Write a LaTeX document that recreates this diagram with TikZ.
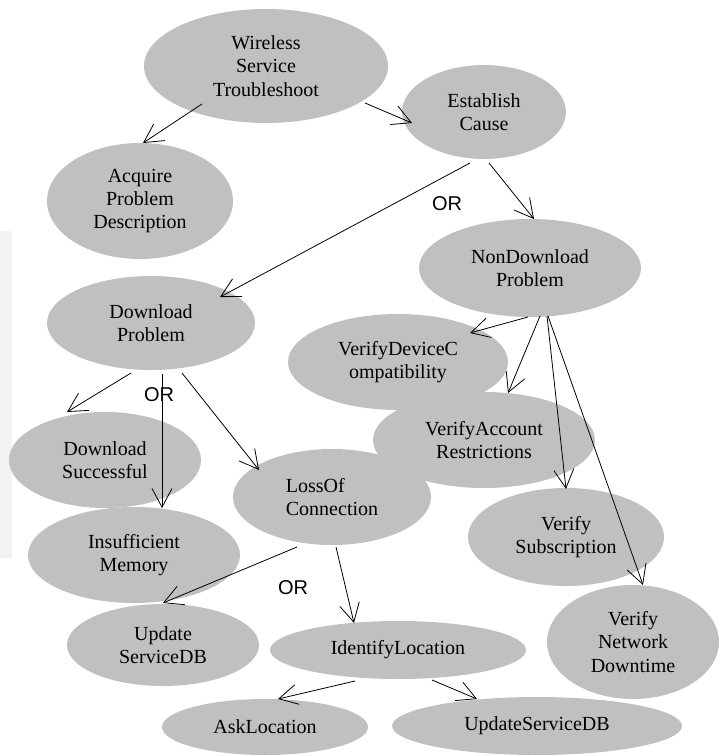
\documentclass[tikz,border=0pt]{standalone}
\usepackage{fontspec}
\setmainfont{Liberation Serif}
\newfontfamily\orfont{Liberation Sans}
\usetikzlibrary{arrows.meta,shapes.geometric}
\definecolor{ellgray}{RGB}{192,192,192}
\definecolor{sidegray}{RGB}{242,242,242}
\tikzset{
  el/.style={ellipse,fill=ellgray,inner sep=0pt,align=center,font=\fontsize{15}{17.5}\selectfont},
  sz/.style 2 args={minimum width=#1*0.75pt,minimum height=#2*0.75pt},
  arr/.style={draw=black,line width=0.6pt,-{Straight Barb[length=14pt,width=15pt,line width=0.6pt]}},
  ortext/.style={inner sep=0pt,font=\orfont\fontsize{15}{18}\selectfont}
}
\begin{document}
\begin{tikzpicture}[x=0.75pt,y=-0.75pt]
\useasboundingbox (0,0) rectangle (723,756);
\fill[sidegray] (0,231) rectangle (12,558);
% ellipses
\node[el,sz={244}{114}] (wst) at (266,66) {Wireless\\Service\\Troubleshoot};
\node[el,sz={164}{94}] (est) at (484,112) {Establish\\Cause};
\node[el,sz={186}{116}] (acq) at (140,201) {Acquire\\Problem\\Description};
\node[el,sz={222}{98}] (ndp) at (530,268) {NonDownload\\Problem};
\node[el,sz={208}{94}] (dp) at (151,323) {Download\\Problem};
\node[el,sz={220}{96}] (vdc) at (398,362) {VerifyDeviceC\\ompatibility};
\node[el,sz={222}{96}] (var) at (484,440) {VerifyAccount\\Restrictions};
\node[el,sz={192}{96}] (ds) at (105,460) {Download\\Successful};
\node[el,sz={198}{96},align=left] (loc) at (332,497) {LossOf\\Connection};
\node[el,sz={196}{98}] (vs) at (566,537) {Verify\\Subscription};
\node[el,sz={212}{96}] (im) at (134,555) {Insufficient\\Memory};
\node[el,sz={192}{82}] (usl) at (163,645) {Update\\ServiceDB};
\node[el,sz={256}{58}] (idl) at (398,650) {IdentifyLocation};
\node[el,sz={206}{56}] (ask) at (265,727) {AskLocation};
\node[el,sz={290}{58}] (usr) at (537,726) {UpdateServiceDB};
\node[el,sz={172}{114}] (vnd) at (633,642) {Verify\\Network\\Downtime};
% OR labels
\node[ortext] (or1) at (447,204) {OR};
\node[ortext] (or2) at (159,395) {OR};
\node[ortext] (or3) at (293,588) {OR};
% connectors
\draw[arr] ([shift={(-64,38)}]wst.center) -- ([shift={(3,-58)}]acq.center);
\draw[arr] ([shift={(99,37)}]wst.center) -- ([shift={(-72,11)}]est.center);
\draw[arr] ([shift={(-14,51)}]est.center) -- ([shift={(69,-26)}]dp.center);
\draw[arr] ([shift={(5,51)}]est.center) -- ([shift={(4,-49)}]ndp.center);
\draw[arr] ([shift={(-2,49)}]ndp.center) -- ([shift={(72,-29)}]vdc.center);
\draw[arr] ([shift={(10,48)}]ndp.center) -- ([shift={(24,-47)}]var.center);
\draw[arr] ([shift={(17,48)}]ndp.center) -- ([shift={(0,-48)}]vs.center);
\draw[arr] ([shift={(18,48)}]ndp.center) -- ([shift={(10,-57)}]vnd.center);
\draw[arr] ([shift={(-20,50)}]dp.center) -- ([shift={(-38,-48)}]ds.center);
\draw[arr] ([shift={(11,51)}]dp.center) -- ([shift={(28,-47)}]im.center);
\draw[arr] ([shift={(31,50)}]dp.center) -- ([shift={(-73,-27)}]loc.center);
\draw[arr] ([shift={(-35,50)}]loc.center) -- ([shift={(0,-42)}]usl.center);
\draw[arr] ([shift={(4,50)}]loc.center) -- ([shift={(-44,-27)}]idl.center);
\draw[arr] ([shift={(-43,31)}]idl.center) -- ([shift={(13,-28)}]ask.center);
\draw[arr] ([shift={(34,30)}]idl.center) -- ([shift={(-60,-27)}]usr.center);
\end{tikzpicture}
\end{document}
